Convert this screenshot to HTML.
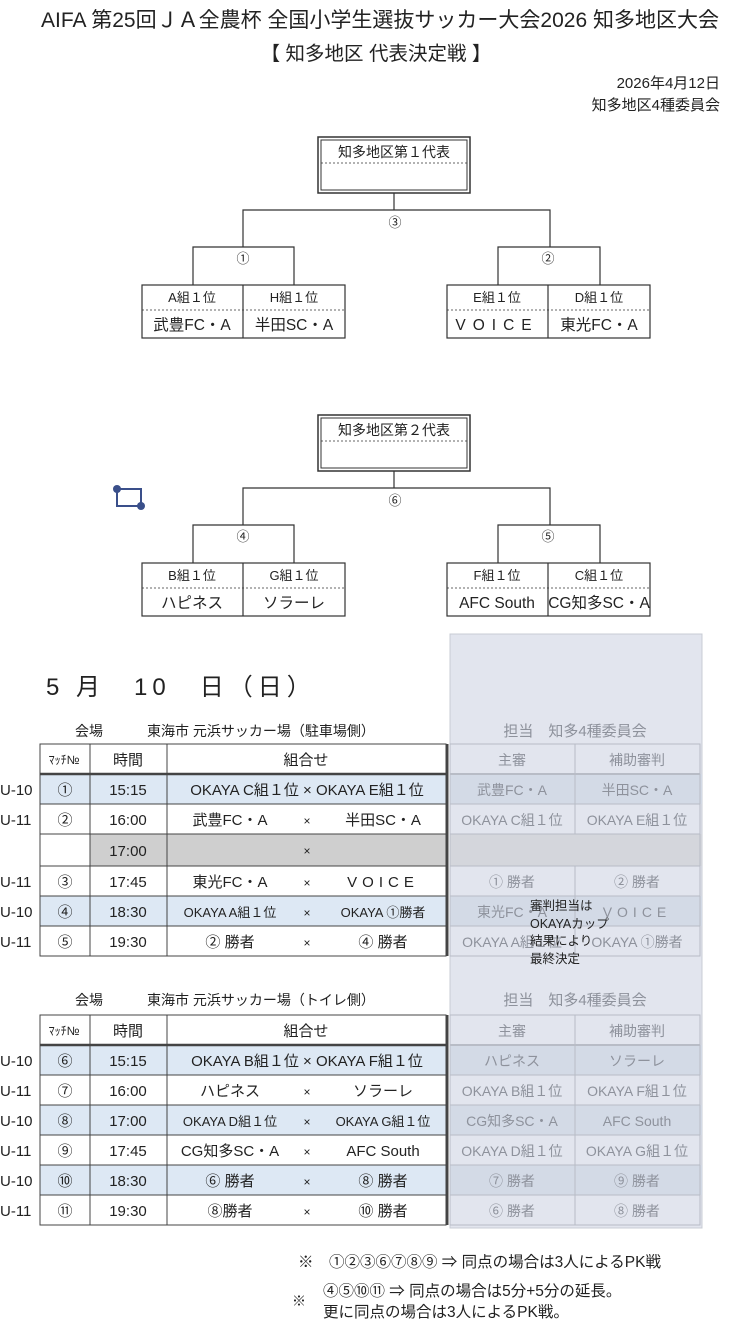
<!DOCTYPE html>
<html><head><meta charset="utf-8"><style>
body{margin:0;background:#fff}
svg{display:block}
text{font-family:"Liberation Sans","Noto Sans CJK JP",sans-serif;fill:#222}
.c{text-anchor:middle}
.g{fill:#8e929c}
</style></head><body>
<svg width="755" height="1324" viewBox="0 0 755 1324" xmlns="http://www.w3.org/2000/svg">
<text x="380" y="27" class="c" font-size="21">AIFA 第25回ＪＡ全農杯 全国小学生選抜サッカー大会2026 知多地区大会</text>
<text x="376" y="60" class="c" font-size="19.5">【 知多地区 代表決定戦 】</text>
<text x="720" y="88" text-anchor="end" font-size="15">2026年4月12日</text>
<text x="720" y="110" text-anchor="end" font-size="15">知多地区4種委員会</text>

<g stroke="#333" fill="none" stroke-width="1.2">
<rect x="318" y="137" width="152" height="56" stroke-width="1.5"/>
<rect x="321" y="140" width="146" height="50" stroke-width="1"/>
<line x1="321" y1="163" x2="467" y2="163" stroke-dasharray="2,2" stroke-width="0.8"/>
<polyline points="394,193 394,210"/>
<polyline points="243,247 243,210 550,210 550,247"/>
<polyline points="193,285 193,247 294,247 294,285"/>
<polyline points="498,285 498,247 600,247 600,285"/>
<rect x="142" y="285" width="203" height="53"/>
<line x1="243" y1="285" x2="243" y2="338"/>
<line x1="142" y1="310" x2="345" y2="310" stroke-dasharray="2,2" stroke-width="0.8"/>
<rect x="447" y="285" width="203" height="53"/>
<line x1="548" y1="285" x2="548" y2="338"/>
<line x1="447" y1="310" x2="650" y2="310" stroke-dasharray="2,2" stroke-width="0.8"/>
</g>
<g font-size="14">
<text x="394" y="157" class="c">知多地区第１代表</text>
<text x="395" y="227" class="c" font-size="13">③</text>
<text x="243" y="263" class="c" font-size="13">①</text>
<text x="548" y="263" class="c" font-size="13">②</text>
<text x="192" y="302" class="c" font-size="13">A組１位</text>
<text x="294" y="302" class="c" font-size="13">H組１位</text>
<text x="497" y="302" class="c" font-size="13">E組１位</text>
<text x="599" y="302" class="c" font-size="13">D組１位</text>
<text x="192" y="330" class="c" font-size="15.5">武豊FC・A</text>
<text x="294" y="330" class="c" font-size="15.5">半田SC・A</text>
<text x="497" y="330" class="c" font-size="15.5" letter-spacing="7">VOICE</text>
<text x="599" y="330" class="c" font-size="15.5">東光FC・A</text>
</g>

<g transform="translate(0,278)">
<g stroke="#333" fill="none" stroke-width="1.2">
<rect x="318" y="137" width="152" height="56" stroke-width="1.5"/>
<rect x="321" y="140" width="146" height="50" stroke-width="1"/>
<line x1="321" y1="163" x2="467" y2="163" stroke-dasharray="2,2" stroke-width="0.8"/>
<polyline points="394,193 394,210"/>
<polyline points="243,247 243,210 550,210 550,247"/>
<polyline points="193,285 193,247 294,247 294,285"/>
<polyline points="498,285 498,247 600,247 600,285"/>
<rect x="142" y="285" width="203" height="53"/>
<line x1="243" y1="285" x2="243" y2="338"/>
<line x1="142" y1="310" x2="345" y2="310" stroke-dasharray="2,2" stroke-width="0.8"/>
<rect x="447" y="285" width="203" height="53"/>
<line x1="548" y1="285" x2="548" y2="338"/>
<line x1="447" y1="310" x2="650" y2="310" stroke-dasharray="2,2" stroke-width="0.8"/>
</g>
<g font-size="14">
<text x="394" y="157" class="c">知多地区第２代表</text>
<text x="395" y="227" class="c" font-size="13">⑥</text>
<text x="243" y="263" class="c" font-size="13">④</text>
<text x="548" y="263" class="c" font-size="13">⑤</text>
<text x="192" y="302" class="c" font-size="13">B組１位</text>
<text x="294" y="302" class="c" font-size="13">G組１位</text>
<text x="497" y="302" class="c" font-size="13">F組１位</text>
<text x="599" y="302" class="c" font-size="13">C組１位</text>
<text x="192" y="330" class="c" font-size="15.5">ハピネス</text>
<text x="294" y="330" class="c" font-size="15.5">ソラーレ</text>
<text x="497" y="330" class="c" font-size="15.5">AFC South</text>
<text x="599" y="330" class="c" font-size="15.5">CG知多SC・A</text>
</g>
</g>

<g stroke="#3a4f8a" stroke-width="2" fill="none"><polyline points="117,489 141,489 141,506 117,506 117,489"/></g>
<circle cx="117" cy="489" r="4" fill="#3a4f8a"/><circle cx="141" cy="506" r="4" fill="#3a4f8a"/>

<text x="46" y="695" font-size="24" letter-spacing="5">5 月　10　日（日）</text>

<text x="75" y="736" font-size="14">会場</text>
<text x="147" y="736" font-size="14">東海市 元浜サッカー場（駐車場側）</text>
<rect x="40" y="774" width="406" height="30" fill="#dde8f4"/>
<rect x="40" y="896" width="406" height="30" fill="#dde8f4"/>
<rect x="90" y="834" width="356" height="32" fill="#cfcfcf"/>
<g stroke="#444" stroke-width="1" fill="none">
<rect x="40" y="744" width="406" height="212"/>
<line x1="40" y1="774" x2="446" y2="774" stroke-width="2.5"/>
<line x1="40" y1="804" x2="446" y2="804"/><line x1="40" y1="834" x2="446" y2="834"/>
<line x1="40" y1="866" x2="446" y2="866"/><line x1="40" y1="896" x2="446" y2="896"/>
<line x1="40" y1="926" x2="446" y2="926"/>
<line x1="90" y1="744" x2="90" y2="956"/><line x1="167" y1="744" x2="167" y2="956"/>
<line x1="447" y1="744" x2="447" y2="956" stroke-width="3"/>
</g>
<g font-size="15">
<text x="64" y="764" class="c" font-size="12">ﾏｯﾁ№</text><text x="128" y="765" class="c">時間</text><text x="306" y="765" class="c">組合せ</text>
<text x="0" y="795">U-10</text><text x="65" y="795" class="c">①</text><text x="128" y="795" class="c">15:15</text><text x="307" y="795" class="c">OKAYA C組１位 × OKAYA E組１位</text>
<text x="0" y="825">U-11</text><text x="65" y="825" class="c">②</text><text x="128" y="825" class="c">16:00</text><text x="230" y="825" class="c">武豊FC・A</text><text x="307" y="825" class="c" font-size="12">×</text><text x="383" y="825" class="c">半田SC・A</text>
<text x="128" y="856" class="c">17:00</text><text x="307" y="855" class="c" font-size="12" fill="#555">×</text>
<text x="0" y="887">U-11</text><text x="65" y="887" class="c">③</text><text x="128" y="887" class="c">17:45</text><text x="230" y="887" class="c">東光FC・A</text><text x="307" y="887" class="c" font-size="12">×</text><text x="383" y="887" class="c" letter-spacing="5">VOICE</text>
<text x="0" y="917">U-10</text><text x="65" y="917" class="c">④</text><text x="128" y="917" class="c">18:30</text><text x="230" y="917" class="c" font-size="13">OKAYA A組１位</text><text x="307" y="917" class="c" font-size="12">×</text><text x="383" y="917" class="c" font-size="13">OKAYA ①勝者</text>
<text x="0" y="947">U-11</text><text x="65" y="947" class="c">⑤</text><text x="128" y="947" class="c">19:30</text><text x="230" y="947" class="c">② 勝者</text><text x="307" y="947" class="c" font-size="12">×</text><text x="383" y="947" class="c">④ 勝者</text>
</g>

<text x="75" y="1005" font-size="14">会場</text>
<text x="147" y="1005" font-size="14">東海市 元浜サッカー場（トイレ側）</text>
<rect x="40" y="1045" width="406" height="30" fill="#dde8f4"/>
<rect x="40" y="1105" width="406" height="30" fill="#dde8f4"/>
<rect x="40" y="1165" width="406" height="30" fill="#dde8f4"/>
<g stroke="#444" stroke-width="1" fill="none">
<rect x="40" y="1015" width="406" height="210"/>
<line x1="40" y1="1045" x2="446" y2="1045" stroke-width="2.5"/>
<line x1="40" y1="1075" x2="446" y2="1075"/><line x1="40" y1="1105" x2="446" y2="1105"/>
<line x1="40" y1="1135" x2="446" y2="1135"/><line x1="40" y1="1165" x2="446" y2="1165"/>
<line x1="40" y1="1195" x2="446" y2="1195"/>
<line x1="90" y1="1015" x2="90" y2="1225"/><line x1="167" y1="1015" x2="167" y2="1225"/>
<line x1="447" y1="1015" x2="447" y2="1225" stroke-width="3"/>
</g>
<g font-size="15">
<text x="64" y="1035" class="c" font-size="12">ﾏｯﾁ№</text><text x="128" y="1036" class="c">時間</text><text x="306" y="1036" class="c">組合せ</text>
<text x="0" y="1066">U-10</text><text x="65" y="1066" class="c">⑥</text><text x="128" y="1066" class="c">15:15</text><text x="307" y="1066" class="c">OKAYA B組１位 × OKAYA F組１位</text>
<text x="0" y="1096">U-11</text><text x="65" y="1096" class="c">⑦</text><text x="128" y="1096" class="c">16:00</text><text x="230" y="1096" class="c">ハピネス</text><text x="307" y="1096" class="c" font-size="12">×</text><text x="383" y="1096" class="c">ソラーレ</text>
<text x="0" y="1126">U-10</text><text x="65" y="1126" class="c">⑧</text><text x="128" y="1126" class="c">17:00</text><text x="230" y="1126" class="c" font-size="13">OKAYA D組１位</text><text x="307" y="1126" class="c" font-size="12">×</text><text x="383" y="1126" class="c" font-size="13">OKAYA G組１位</text>
<text x="0" y="1156">U-11</text><text x="65" y="1156" class="c">⑨</text><text x="128" y="1156" class="c">17:45</text><text x="230" y="1156" class="c">CG知多SC・A</text><text x="307" y="1156" class="c" font-size="12">×</text><text x="383" y="1156" class="c">AFC South</text>
<text x="0" y="1186">U-10</text><text x="65" y="1186" class="c">⑩</text><text x="128" y="1186" class="c">18:30</text><text x="230" y="1186" class="c">⑥ 勝者</text><text x="307" y="1186" class="c" font-size="12">×</text><text x="383" y="1186" class="c">⑧ 勝者</text>
<text x="0" y="1216">U-11</text><text x="65" y="1216" class="c">⑪</text><text x="128" y="1216" class="c">19:30</text><text x="230" y="1216" class="c">⑧勝者</text><text x="307" y="1216" class="c" font-size="12">×</text><text x="383" y="1216" class="c">⑩ 勝者</text>
</g>

<rect x="450" y="634" width="252" height="594" fill="#e2e5ee" stroke="#c8ccd4"/>
<rect x="450" y="774" width="252" height="30" fill="#d3dae6"/>
<rect x="450" y="834" width="252" height="32" fill="#d4d6dc"/>
<rect x="450" y="896" width="252" height="30" fill="#d3dae6"/>
<rect x="450" y="1045" width="252" height="30" fill="#d3dae6"/>
<rect x="450" y="1105" width="252" height="30" fill="#d3dae6"/>
<rect x="450" y="1165" width="252" height="30" fill="#d3dae6"/>
<g stroke="#b8bcc6" stroke-width="1" fill="none">
<rect x="450" y="744" width="250" height="212"/>
<line x1="450" y1="774" x2="700" y2="774" stroke-width="2"/>
<line x1="450" y1="804" x2="700" y2="804"/><line x1="450" y1="834" x2="700" y2="834"/>
<line x1="450" y1="866" x2="700" y2="866"/><line x1="450" y1="896" x2="700" y2="896"/>
<line x1="450" y1="926" x2="700" y2="926"/>
<line x1="575" y1="744" x2="575" y2="834"/><line x1="575" y1="866" x2="575" y2="956"/>
<rect x="450" y="1015" width="250" height="210"/>
<line x1="450" y1="1045" x2="700" y2="1045" stroke-width="2"/>
<line x1="450" y1="1075" x2="700" y2="1075"/><line x1="450" y1="1105" x2="700" y2="1105"/>
<line x1="450" y1="1135" x2="700" y2="1135"/><line x1="450" y1="1165" x2="700" y2="1165"/>
<line x1="450" y1="1195" x2="700" y2="1195"/>
<line x1="575" y1="1015" x2="575" y2="1225"/>
</g>
<g font-size="14">
<text x="575" y="736" class="c g" font-size="15">担当　知多4種委員会</text>
<text x="512" y="765" class="c g">主審</text><text x="637" y="765" class="c g">補助審判</text>
<text x="512" y="795" class="c g">武豊FC・A</text><text x="637" y="795" class="c g">半田SC・A</text>
<text x="512" y="825" class="c g">OKAYA C組１位</text><text x="637" y="825" class="c g">OKAYA E組１位</text>
<text x="512" y="887" class="c g">① 勝者</text><text x="637" y="887" class="c g">② 勝者</text>
<text x="512" y="917" class="c g">東光FC・A</text><text x="637" y="917" class="c g" letter-spacing="5">VOICE</text>
<text x="512" y="947" class="c g">OKAYA A組１位</text><text x="637" y="947" class="c g">OKAYA ①勝者</text>
<text x="575" y="1005" class="c g" font-size="15">担当　知多4種委員会</text>
<text x="512" y="1036" class="c g">主審</text><text x="637" y="1036" class="c g">補助審判</text>
<text x="512" y="1066" class="c g">ハピネス</text><text x="637" y="1066" class="c g">ソラーレ</text>
<text x="512" y="1096" class="c g">OKAYA B組１位</text><text x="637" y="1096" class="c g">OKAYA F組１位</text>
<text x="512" y="1126" class="c g">CG知多SC・A</text><text x="637" y="1126" class="c g">AFC South</text>
<text x="512" y="1156" class="c g">OKAYA D組１位</text><text x="637" y="1156" class="c g">OKAYA G組１位</text>
<text x="512" y="1186" class="c g">⑦ 勝者</text><text x="637" y="1186" class="c g">⑨ 勝者</text>
<text x="512" y="1216" class="c g">⑥ 勝者</text><text x="637" y="1216" class="c g">⑧ 勝者</text>
</g>
<g font-size="12.5">
<text x="530" y="910">審判担当は</text>
<text x="530" y="928">OKAYAカップ</text>
<text x="530" y="945">結果により</text>
<text x="530" y="963">最終決定</text>
</g>

<g font-size="15.5">
<text x="298" y="1267">※　①②③⑥⑦⑧⑨ ⇒ 同点の場合は3人によるPK戦</text>
<text x="292" y="1306" font-size="14">※</text>
<text x="323" y="1296">④⑤⑩⑪ ⇒ 同点の場合は5分+5分の延長。</text>
<text x="323" y="1317">更に同点の場合は3人によるPK戦。</text>
</g>
</svg>
</body></html>
